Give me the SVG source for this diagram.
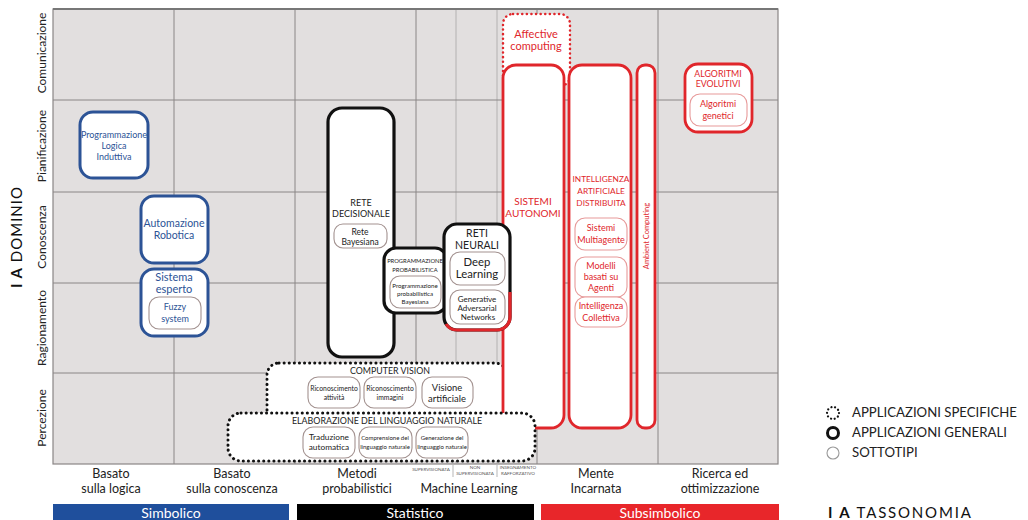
<svg xmlns="http://www.w3.org/2000/svg" width="1028" height="520" viewBox="0 0 1028 520">
<style>
text{font-family:Lato,"Open Sans","Liberation Sans",sans-serif;text-anchor:middle}
.grid{fill:#e2dfdf;stroke:#8a8686;stroke-width:1.2}
.gl{stroke:#8a8686;stroke-width:1}
.gl2{stroke:#a8a4a4;stroke-width:0.8}
.blue{fill:#fff;stroke:#2c5396;stroke-width:3}
.blk{fill:#fff;stroke:#111;stroke-width:3.2}
.red{fill:#fff;stroke:#e0262b;stroke-width:2.8}
.dotb{fill:#fff;stroke:#111;stroke-width:3;stroke-dasharray:0.1 5;stroke-linecap:round}
.dotr{fill:#fff;stroke:#e0262b;stroke-width:2.5;stroke-dasharray:0.1 4.5;stroke-linecap:round}
.sub{fill:#fff;stroke:#a39290;stroke-width:1.1}
.subr{fill:#fff;stroke:#e79a9a;stroke-width:1.1}
.tb{fill:#2c5396}
.tr{fill:#e0262b}
.tk{fill:#222}
.ax{font-size:12.5px;fill:#222}
.row{font-size:12px;fill:#222}
.leg{font-size:13.2px;fill:#222;text-anchor:start}
.bar{font-size:14px;fill:#fff}
</style>

<!-- grid -->
<g id="grid">
<rect class="grid" x="53" y="9" width="725" height="455"/>
<line class="gl" x1="174" y1="9" x2="174" y2="464"/>
<line class="gl" x1="295" y1="9" x2="295" y2="464"/>
<line class="gl" x1="416" y1="9" x2="416" y2="464"/>
<line class="gl2" x1="456" y1="9" x2="456" y2="464"/>
<line class="gl2" x1="497" y1="9" x2="497" y2="464"/>
<line class="gl" x1="537" y1="9" x2="537" y2="464"/>
<line class="gl" x1="658" y1="9" x2="658" y2="464"/>
<line class="gl" x1="53" y1="100" x2="778" y2="100"/>
<line class="gl" x1="53" y1="192" x2="778" y2="192"/>
<line class="gl" x1="53" y1="283" x2="778" y2="283"/>
<line class="gl" x1="53" y1="373" x2="778" y2="373"/>
<line x1="53" y1="9" x2="778" y2="9" stroke="#777" stroke-width="2"/>
</g>

<!-- axis labels -->
<g id="rows" class="row">
<text transform="translate(46,53) rotate(-90)">Comunicazione</text>
<text transform="translate(46,146) rotate(-90)">Pianificazione</text>
<text transform="translate(46,237) rotate(-90)">Conoscenza</text>
<text transform="translate(46,328) rotate(-90)">Ragionamento</text>
<text transform="translate(46,418) rotate(-90)">Percezione</text>
</g>
<text transform="translate(22,237) rotate(-90)" style="font-size:15px;fill:#111;letter-spacing:1px"><tspan font-weight="bold">I A</tspan> DOMINIO</text>

<g id="cols" class="ax">
<text x="111" y="478">Basato</text><text x="111" y="493">sulla logica</text>
<text x="232" y="478">Basato</text><text x="232" y="493">sulla conoscenza</text>
<text x="357" y="478">Metodi</text><text x="357" y="493">probabilistici</text>
<text x="469" y="493">Machine Learning</text>
<text x="596" y="478">Mente</text><text x="596" y="493">Incarnata</text>
<text x="720" y="478">Ricerca ed</text><text x="720" y="493">ottimizzazione</text>
</g>
<g id="mlsub" style="font-size:4.6px;fill:#555">
<text x="431" y="471">SUPERVISIONATA</text>
<text x="475" y="469">NON</text><text x="475" y="474.5">SUPERVISIONATA</text>
<text x="518" y="469">INSEGNAMENTO</text><text x="518" y="474.5">RAFFORZATIVO</text>
<line x1="453" y1="465" x2="453" y2="477" stroke="#999" stroke-width="0.7"/>
<line x1="497" y1="465" x2="497" y2="477" stroke="#999" stroke-width="0.7"/>
</g>

<!-- bars -->
<g id="bars">
<rect x="53" y="504" width="236" height="16" fill="#1f4f9c"/>
<rect x="297" y="504" width="237" height="16" fill="#000"/>
<rect x="541" y="504" width="238" height="16" fill="#e8262a"/>
<text class="bar" x="171" y="518">Simbolico</text>
<text class="bar" x="415" y="518">Statistico</text>
<text class="bar" x="660" y="518">Subsimbolico</text>
</g>

<!-- nodes -->
<g id="plinduttiva">
<rect class="blue" x="80" y="112" width="68" height="66" rx="13"/>
<g class="tb" style="font-size:9px"><text x="114" y="138">Programmazione</text><text x="114" y="149">Logica</text><text x="114" y="160">Induttiva</text></g>
</g>
<g id="automazione">
<rect class="blue" x="141" y="196" width="67" height="67" rx="13"/>
<g class="tb" style="font-size:10.5px"><text x="174" y="227">Automazione</text><text x="174" y="239">Robotica</text></g>
</g>
<g id="sistemaesperto">
<rect class="blue" x="141" y="269" width="67" height="67" rx="13"/>
<g class="tb" style="font-size:11px"><text x="174" y="281">Sistema</text><text x="174" y="293">esperto</text></g>
<rect class="sub" x="149" y="297" width="52" height="32" rx="10"/>
<g class="tb" style="font-size:9px"><text x="175" y="310">Fuzzy</text><text x="175" y="322">system</text></g>
</g>

<g id="retedecisionale">
<rect class="blk" x="328" y="108" width="66" height="249" rx="14"/>
<g class="tk" style="font-size:9px"><text x="361" y="206">RETE</text><text x="361" y="217">DECISIONALE</text></g>
<rect class="sub" x="334" y="224" width="53" height="24" rx="9"/>
<g class="tk" style="font-size:8.5px"><text x="360" y="235">Rete</text><text x="360" y="245">Bayesiana</text></g>
</g>

<g id="computervision">
<rect class="dotb" x="267" y="363" width="240" height="60" rx="12"/>
<text class="tk" x="390" y="374" style="font-size:8.8px">COMPUTER VISION</text>
<rect class="sub" x="308" y="377" width="52" height="31" rx="10"/>
<g class="tk" style="font-size:6.8px"><text x="334" y="391">Riconoscimento</text><text x="334" y="400">attività</text></g>
<rect class="sub" x="364" y="377" width="52" height="31" rx="10"/>
<g class="tk" style="font-size:6.8px"><text x="390" y="391">Riconoscimento</text><text x="390" y="400">immagini</text></g>
<rect class="sub" x="422" y="377" width="51" height="31" rx="10"/>
<g class="tk" style="font-size:9.4px"><text x="447" y="391">Visione</text><text x="447" y="402">artificiale</text></g>
</g>

<g id="affective">
<rect class="dotr" x="503" y="14" width="67" height="72" rx="10"/>
<g class="tr" style="font-size:11px"><text x="536" y="38">Affective</text><text x="536" y="50">computing</text></g>
</g>

<g id="sistemiautonomi">
<rect class="red" x="503" y="65" width="61" height="363" rx="13"/>
<g class="tr" style="font-size:10px"><text x="533" y="205">SISTEMI</text><text x="533" y="217">AUTONOMI</text></g>
</g>

<g id="iad">
<rect class="red" x="569" y="65" width="62" height="363" rx="13"/>
<g class="tr" style="font-size:8.3px"><text x="601" y="182">INTELLIGENZA</text><text x="601" y="194">ARTIFICIALE</text><text x="601" y="206">DISTRIBUITA</text></g>
<rect class="subr" x="575" y="218" width="52" height="32" rx="10"/>
<g class="tr" style="font-size:9px"><text x="601" y="231">Sistemi</text><text x="601" y="243">Multiagente</text></g>
<rect class="subr" x="575" y="257" width="52" height="40" rx="10"/>
<g class="tr" style="font-size:9px"><text x="601" y="269">Modelli</text><text x="601" y="280">basati su</text><text x="601" y="291">Agenti</text></g>
<rect class="subr" x="575" y="297" width="52" height="30" rx="10"/>
<g class="tr" style="font-size:9px"><text x="601" y="309">Intelligenza</text><text x="601" y="321">Collettiva</text></g>
</g>

<g id="ambient">
<rect class="red" x="637" y="65" width="18" height="363" rx="8"/>
<text class="tr" transform="translate(649,236) rotate(-90)" style="font-size:7.5px">Ambient Computing</text>
</g>

<g id="algoritmi">
<rect class="red" x="685" y="64" width="67" height="68" rx="13"/>
<g class="tr" style="font-size:8.8px"><text x="718" y="77">ALGORITMI</text><text x="718" y="87">EVOLUTIVI</text></g>
<rect class="subr" x="690" y="94" width="57" height="32" rx="10"/>
<g class="tr" style="font-size:9px"><text x="718" y="107">Algoritmi</text><text x="718" y="119">genetici</text></g>
</g>

<g id="progprob">
<rect class="blk" x="384" y="248" width="63" height="65" rx="12"/>
<g class="tk" style="font-size:5.8px"><text x="415" y="263">PROGRAMMAZIONE</text><text x="415" y="272">PROBABILISTICA</text></g>
<rect class="sub" x="390" y="276" width="51" height="32" rx="10"/>
<g class="tk" style="font-size:6.2px"><text x="415" y="288">Programmazione</text><text x="415" y="296">probabilistica</text><text x="415" y="304">Bayesiana</text></g>
</g>

<g id="retineurali">
<rect class="blk" x="444" y="224" width="66" height="106" rx="13"/>
<path d="M510,292 V317 A13,13 0 0 1 497,330 H457 A13,13 0 0 1 446,324" fill="none" stroke="#e0262b" stroke-width="3.2"/>
<g class="tk" style="font-size:10.5px"><text x="477" y="237">RETI</text><text x="477" y="249">NEURALI</text></g>
<rect class="sub" x="450" y="252" width="55" height="33" rx="10"/>
<g class="tk" style="font-size:11.3px"><text x="477" y="266">Deep</text><text x="477" y="278">Learning</text></g>
<rect class="sub" x="450" y="290" width="55" height="34" rx="10"/>
<g class="tk" style="font-size:8px"><text x="477" y="302">Generative</text><text x="477" y="311">Adversarial</text><text x="478" y="320">Networks</text></g>
</g>

<g id="nlp">
<rect class="dotb" x="228" y="413" width="307" height="48" rx="13"/>
<text class="tk" x="387" y="424" style="font-size:8.9px">ELABORAZIONE DEL LINGUAGGIO NATURALE</text>
<rect class="sub" x="303" y="427" width="52" height="31" rx="10"/>
<g class="tk" style="font-size:8.3px"><text x="329" y="440">Traduzione</text><text x="329" y="450">automatica</text></g>
<rect class="sub" x="359" y="427" width="53" height="31" rx="10"/>
<g class="tk" style="font-size:6px"><text x="385" y="440">Comprensione del</text><text x="385" y="449">linguaggio naturale</text></g>
<rect class="sub" x="416" y="427" width="52" height="31" rx="10"/>
<g class="tk" style="font-size:6px"><text x="442" y="440">Generazione del</text><text x="442" y="449">linguaggio naturale</text></g>
</g>

<!-- legend -->
<g id="legend">
<circle cx="833" cy="413" r="6" fill="none" stroke="#111" stroke-width="2.2" stroke-dasharray="0.1 3.6" stroke-linecap="round"/>
<circle cx="833" cy="433" r="5.5" fill="none" stroke="#111" stroke-width="3"/>
<circle cx="833" cy="453" r="6" fill="none" stroke="#999" stroke-width="1.1"/>
<text class="leg" x="852" y="417">APPLICAZIONI SPECIFICHE</text>
<text class="leg" x="852" y="437">APPLICAZIONI GENERALI</text>
<text class="leg" x="852" y="457">SOTTOTIPI</text>
<text x="828" y="518" style="font-size:15px;fill:#111;text-anchor:start;letter-spacing:1.8px"><tspan font-weight="bold">I A</tspan>  TASSONOMIA</text>
</g>
</svg>
